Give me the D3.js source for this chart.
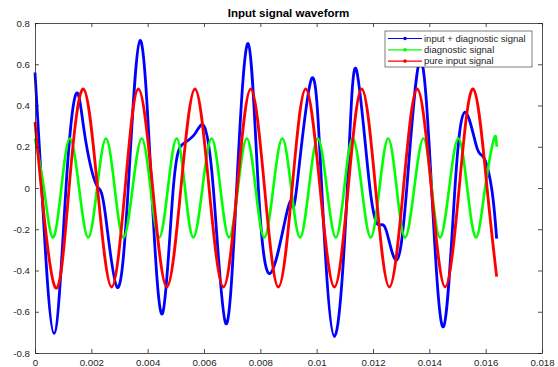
<!DOCTYPE html>
<html>
<head>
<meta charset="utf-8">
<script src="https://cdn.jsdelivr.net/npm/d3@7"></script>
<style>
  body { margin: 0; background: #fff; }
  text { font-family: "Liberation Sans", Arial, sans-serif; }
</style>
</head>
<body>
<div id="chart"></div>
<script>
var xTicks = [0, 0.002, 0.004, 0.006, 0.008, 0.01, 0.012, 0.014, 0.016, 0.018];
var yTicks = [-0.8, -0.6, -0.4, -0.2, 0, 0.2, 0.4, 0.6, 0.8];
var legendNames = ["input + diagnostic signal", "diagnostic signal", "pure input signal"];

// [time, value]: extrema, zero crossings, shoulders
var mixedSignal = [
  [0, 0.56], [0.00024, 0], [0.000675, -0.705], [0.0011, 0], [0.00146, 0.457],
  [0.00172, 0.3], [0.00201, 0.086], [0.00225, 0.0], [0.00249, -0.12],
  [0.00292, -0.482], [0.00331, 0], [0.00373, 0.715], [0.00414, 0], [0.00453, -0.608],
  [0.00491, 0], [0.00527, 0.215], [0.00568, 0.263], [0.00598, 0.304], [0.00633, 0],
  [0.00677, -0.657], [0.00716, 0], [0.00757, 0.70], [0.00793, 0], [0.00834, -0.415],
  [0.00888, -0.156], [0.00912, -0.068], [0.00929, 0], [0.00982, 0.53], [0.01018, 0],
  [0.01063, -0.72], [0.01109, 0], [0.0114, 0.578], [0.01189, 0], [0.01225, -0.18],
  [0.01249, -0.215], [0.01284, -0.35], [0.0132, 0], [0.01367, 0.62], [0.01408, 0],
  [0.0145, -0.673], [0.01491, 0], [0.01527, 0.368], [0.01568, 0.199], [0.01592, 0.15],
  [0.01621, 0], [0.01639, -0.245]
];

var diagnosticSignal = [
  [0, 0.24], [0.000315, 0], [0.00063, -0.24], [0.000935, 0], [0.00124, 0.24],
  [0.001565, 0], [0.00189, -0.24], [0.002205, 0], [0.00252, 0.24], [0.00283, 0],
  [0.00314, -0.24], [0.003465, 0], [0.00379, 0.24], [0.0041, 0], [0.00441, -0.24],
  [0.00472, 0], [0.00503, 0.24], [0.005325, 0], [0.00562, -0.24], [0.005945, 0],
  [0.00627, 0.24], [0.00658, 0], [0.00689, -0.24], [0.007205, 0], [0.00752, 0.24],
  [0.00783, 0], [0.00814, -0.24], [0.00846, 0], [0.00878, 0.24], [0.009095, 0],
  [0.00941, -0.24], [0.009725, 0], [0.01004, 0.24], [0.01036, 0], [0.01068, -0.24],
  [0.01098, 0], [0.01128, 0.24], [0.0116, 0], [0.01192, -0.24], [0.01223, 0],
  [0.01254, 0.24], [0.01284, 0], [0.01314, -0.24], [0.013465, 0], [0.01379, 0.24],
  [0.014085, 0], [0.01438, -0.24], [0.014705, 0], [0.01503, 0.24], [0.015345, 0],
  [0.01566, -0.24], [0.01598, 0], [0.0163, 0.24], [0.01639, 0.2]
];

var inputSignal = [
  [0, 0.32], [0.00071, -0.48], [0.00121, 0], [0.001715, 0.48], [0.00222, 0],
  [0.00272, -0.48], [0.0032, 0], [0.00367, 0.48], [0.00418, 0], [0.00468, -0.48],
  [0.00518, 0], [0.00568, 0.48], [0.00618, 0], [0.00669, -0.48], [0.00718, 0],
  [0.00766, 0.48], [0.00815, 0], [0.00864, -0.48], [0.00913, 0], [0.00961, 0.48],
  [0.01012, 0], [0.01063, -0.48], [0.01112, 0], [0.0116, 0.48], [0.01209, 0],
  [0.01258, -0.48], [0.01308, 0], [0.01357, 0.48], [0.01407, 0], [0.01456, -0.48],
  [0.01506, 0], [0.01556, 0.48], [0.01605, 0], [0.01639, -0.43]
];

var margin = { top: 23, right: 16, bottom: 14, left: 35 },
  width = 558 - margin.left - margin.right,
  height = 367 - margin.top - margin.bottom;

var svg = d3.select("#chart")
  .append("svg")
  .attr("width", 558)
  .attr("height", 367)
  .append("g")
  .attr("transform", "translate(" + margin.left + "," + margin.top + ")");

var x = d3.scaleLinear().domain([0, 0.018]).range([0, width]);
var y = d3.scaleLinear().domain([-0.8, 0.8]).range([height, 0]);
var fmt = function (d) { return String(+d.toFixed(4)); };
var axisColor = "#262626";

var lines = [
  { data: mixedSignal, color: "#0000ff", w: 2.8 },
  { data: diagnosticSignal, color: "#00ff00", w: 2.6 },
  { data: inputSignal, color: "#ff0000", w: 2.8 }
];
lines.forEach(function (s) {
  svg.append("path").datum(s.data)
    .attr("fill", "none")
    .attr("stroke", s.color)
    .attr("stroke-width", s.w)
    .attr("stroke-linejoin", "round")
    .attr("d", d3.line()
      .curve(d3.curveNatural)
      .x(function (d) { return x(d[0]); })
      .y(function (d) { return y(d[1]); }));
});

function styleAxis(g) {
  g.selectAll("path, line").attr("stroke", axisColor).attr("stroke-width", 0.8);
  g.selectAll("text").attr("fill", axisColor).style("font-size", "9.7px");
}

svg.append("g")
  .attr("transform", "translate(0," + height + ")")
  .call(d3.axisBottom(x).tickValues(xTicks).tickFormat(fmt).tickSizeInner(-4).tickSizeOuter(0).tickPadding(6))
  .call(styleAxis);
svg.append("g")
  .call(d3.axisTop(x).tickValues(xTicks).tickFormat("").tickSizeInner(-4).tickSizeOuter(0))
  .call(styleAxis);
svg.append("g")
  .call(d3.axisLeft(y).tickValues(yTicks).tickFormat(fmt).tickSizeInner(-4).tickSizeOuter(0).tickPadding(5))
  .call(styleAxis);
svg.append("g")
  .attr("transform", "translate(" + width + ",0)")
  .call(d3.axisRight(y).tickValues(yTicks).tickFormat("").tickSizeInner(-4).tickSizeOuter(0))
  .call(styleAxis);

svg.append("text")
  .attr("x", width / 2)
  .attr("y", -6.5)
  .attr("text-anchor", "middle")
  .style("font-size", "11.5px")
  .style("font-weight", "bold")
  .attr("fill", "#000")
  .text("Input signal waveform");

// legend
var legend = svg.append("g").attr("transform", "translate(" + (385 - margin.left) + "," + (31 - margin.top) + ")");
legend.append("rect")
  .attr("width", 147).attr("height", 36)
  .attr("fill", "#fff")
  .attr("stroke", axisColor).attr("stroke-width", 0.6);
var legendColors = ["#0000ff", "#00ff00", "#ff0000"];
legendNames.forEach(function (name, i) {
  var ly = 7.5 + i * 11.3;
  legend.append("line")
    .attr("x1", 3).attr("x2", 37).attr("y1", ly).attr("y2", ly)
    .attr("stroke", legendColors[i]).attr("stroke-width", 1.2);
  legend.append("circle")
    .attr("cx", 20).attr("cy", ly).attr("r", 1.8)
    .attr("fill", legendColors[i]);
  legend.append("text")
    .attr("x", 39).attr("y", ly)
    .attr("dy", "0.35em")
    .style("font-size", "9.5px")
    .attr("fill", axisColor)
    .text(name);
});
</script>
</body>
</html>
